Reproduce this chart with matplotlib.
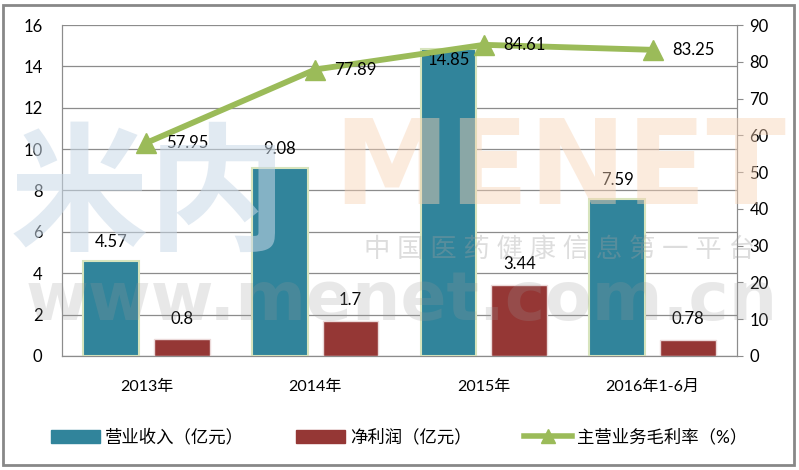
import matplotlib.pyplot as plt
import matplotlib.patches as mpatches
from matplotlib.lines import Line2D
import numpy as np

plt.rcParams['font.family'] = ['Lato', 'Noto Sans CJK SC', 'DejaVu Sans']

# data
categories = ['2013年', '2014年', '2015年', '2016年1-6月']
revenue = [4.57, 9.08, 14.85, 7.59]        # 营业收入（亿元）
net_profit = [0.8, 1.7, 3.44, 0.78]        # 净利润（亿元）
gross_margin = [57.95, 77.89, 84.61, 83.25]  # 主营业务毛利率（%）

teal = '#31849B'
red = '#953735'
green = '#9BBB59'

fig = plt.figure(figsize=(7.99, 4.70), dpi=100)
ax = fig.add_axes([0.0776, 0.2426, 0.8448, 0.7042])
ax2 = ax.twinx()

x = np.arange(len(categories))
w = 0.33
off = 0.21

ax.bar(x - off, revenue, w, color=teal, edgecolor='#D7E4BD', linewidth=1.5, zorder=3)
ax.bar(x + off, net_profit, w, color=red, edgecolor='#EBD9D9', linewidth=1.0, zorder=3)

ax.set_xlim(-0.5, len(categories) - 0.5)
ax.set_ylim(0, 16)
ax.set_yticks(range(0, 17, 2))
ax.grid(axis='y', color='#8C8C8C', linewidth=0.9, zorder=0)
ax.set_axisbelow(True)
ax.tick_params(axis='y', length=0, pad=14, labelsize=12)
ax.tick_params(axis='x', length=0, pad=17, labelsize=11.5)
ax.set_xticks(x)
ax.set_xticklabels(categories)
for s in ['left', 'right', 'bottom', 'top']:
    ax.spines[s].set_color('#8C8C8C')
ax.spines['top'].set_visible(False)

# bar value labels
for xi, v in zip(x - off, revenue):
    if v > 14:
        ax.annotate(f'{v:g}', (xi, v), xytext=(0, -8), textcoords='offset points',
                    ha='center', va='center', fontsize=12, zorder=6)
    else:
        ax.annotate(f'{v:g}', (xi, v), xytext=(0, 14), textcoords='offset points',
                    ha='center', va='center', fontsize=12, zorder=6)
for xi, v in zip(x + off, net_profit):
    ax.annotate(f'{v:g}', (xi, v), xytext=(0, 15), textcoords='offset points',
                ha='center', va='center', fontsize=12, zorder=6)

# line on secondary axis
ax2.plot(x, gross_margin, color=green, linewidth=4.2, marker='^', markersize=14,
         markerfacecolor=green, markeredgecolor=green, zorder=5)
ax2.set_ylim(0, 90)
ax2.set_yticks(range(0, 91, 10))
ax2.tick_params(axis='y', length=4, color='#8C8C8C', pad=5, labelsize=12)
for s in ['left', 'right', 'bottom', 'top']:
    ax2.spines[s].set_color('#8C8C8C')
ax2.spines['top'].set_visible(False)
for xi, v in zip(x, gross_margin):
    ax2.annotate(f'{v:.2f}', (xi, v), xytext=(14, 0), textcoords='offset points',
                 ha='left', va='center', fontsize=12, zorder=6)

# watermark
fig.text(0.012, 0.58, '米内', fontsize=100, fontweight='bold', color='#C9D9E8',
         alpha=0.55, ha='left', va='center', zorder=0)
fig.text(0.70, 0.635, 'MENET', fontsize=84, fontweight='bold', color='#F8D3B5',
         alpha=0.45, ha='center', va='center', family='DejaVu Sans', zorder=0)
fig.text(0.70, 0.47, '中 国 医 药 健 康 信 息 第 一 平 台', fontsize=19, color='#A0A0A0',
         alpha=0.35, ha='center', va='center', zorder=0)
fig.text(0.503, 0.36, 'www.menet.com.cn', fontsize=49, fontweight='bold', color='#9A9A9A',
         alpha=0.22, ha='center', va='center', family='DejaVu Sans', zorder=10)

# legend
handles = [mpatches.Patch(color=teal, label='营业收入（亿元）'),
           mpatches.Patch(color=red, label='净利润（亿元）'),
           Line2D([0], [0], color=green, linewidth=4, marker='^', markersize=10,
                  label='主营业务毛利率（%）')]
fig.legend(handles=handles, loc='center', bbox_to_anchor=(0.5, 0.07), ncol=3,
           frameon=False, fontsize=12.5, handlelength=2.8, handleheight=0.8,
           columnspacing=3.0, handletextpad=0.3)

# outer frame
fig.patches.append(mpatches.Rectangle((0.004, 0.01), 0.99, 0.98, transform=fig.transFigure,
                                      fill=False, edgecolor='#888888', linewidth=2))

fig.savefig('out.png', dpi=100)
